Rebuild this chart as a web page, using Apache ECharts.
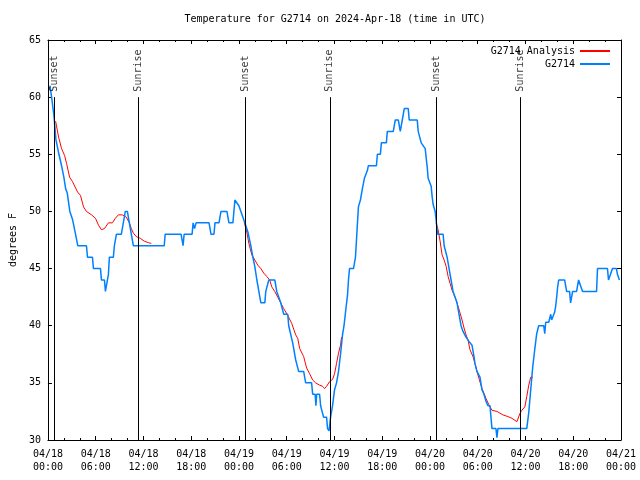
<!DOCTYPE html>
<html><head><meta charset="utf-8">
<script src="https://cdn.jsdelivr.net/npm/echarts@6/dist/echarts.min.js"></script>
<style>html,body{margin:0;padding:0;background:#fff}#c{width:640px;height:480px}</style>
</head><body><div id="c"></div>
<script>
// hours since 04/18 00:00 UTC
const xTickLabels = ['04/18\n00:00','04/18\n06:00','04/18\n12:00','04/18\n18:00',
  '04/19\n00:00','04/19\n06:00','04/19\n12:00','04/19\n18:00',
  '04/20\n00:00','04/20\n06:00','04/20\n12:00','04/20\n18:00','04/21\n00:00'];
const sunTimes = [0.75, 11.35, 24.78, 35.42, 48.81, 59.33];
const sunLabels = ['Sunset','Sunrise','Sunset','Sunrise','Sunset','Sunrise'];

const obsData = [[0.25,61],[0.46,60],[0.75,58.4],[1.00,56.3],[1.38,55],[1.71,54],[2.00,53],[2.22,52],[2.43,51.6],[2.75,50],[3.09,49.3],[3.47,48],[3.75,47],[4.84,47],[4.97,46],[5.59,46],[5.72,45],[6.60,45],[6.72,44],[7.10,44],[7.22,43],[7.47,43],[7.60,44.5],[7.72,46],[8.22,46],[8.35,47],[8.60,48],[9.22,48],[9.47,49],[9.72,50],[9.98,50],[10.23,49],[10.48,48],[10.73,47],[14.61,47],[14.73,48],[16.73,48],[16.98,47],[17.11,48],[18.11,48],[18.24,49],[18.42,48.5],[18.61,49],[20.24,49],[20.49,48],[20.86,48],[20.99,49],[21.49,49],[21.74,50],[22.49,50],[22.74,49],[23.24,49],[23.49,51],[23.74,51],[23.99,50.5],[24.24,50],[24.74,49],[25.12,48.2],[25.49,47],[25.74,46],[25.99,45.2],[26.25,44],[26.50,43],[26.75,42],[27.25,42],[27.37,43],[27.62,43],[27.75,44],[28.50,44],[28.75,43],[29.00,43],[29.25,42],[29.50,42],[29.63,41],[30.13,41],[30.25,40],[30.50,40],[30.75,38.5],[31.13,37],[31.50,36],[32.13,36],[32.38,35],[33.13,35],[33.26,34],[33.57,34],[33.67,33],[33.76,34],[34.13,34],[34.26,33],[34.51,33],[34.63,32],[35.01,32],[35.13,31],[35.32,30.8],[35.51,32],[35.76,33],[36.01,34.4],[36.26,35],[36.51,36],[36.76,37.5],[37.01,39.2],[37.20,40],[37.39,41.2],[37.64,42.7],[37.76,44],[37.89,45],[38.39,45],[38.64,46],[38.89,49],[39.01,50.4],[39.26,51],[39.51,52],[39.76,52.9],[39.89,53],[40.14,53.6],[40.26,54],[41.27,54],[41.39,55],[41.77,55],[41.89,56],[42.52,56],[42.64,57],[43.39,57],[43.64,58],[44.02,58],[44.27,57],[44.39,57],[44.52,58],[44.77,59],[45.27,59],[45.39,58],[46.40,58],[46.52,57],[46.65,57],[46.90,56],[47.40,55.5],[47.52,54.7],[47.65,53.9],[47.77,52.9],[48.15,52.2],[48.27,51.3],[48.40,50.6],[48.65,50],[48.77,49.25],[48.96,48],[49.15,48],[49.65,48],[49.78,47],[50.03,47],[50.15,46],[50.40,45],[50.65,44],[50.78,44],[50.90,43],[51.15,43],[51.40,42],[51.65,41],[51.78,41],[51.90,40],[52.15,39.5],[52.53,39],[53.03,38.5],[53.28,38.3],[53.53,37.3],[53.65,36.7],[53.90,36],[54.28,35.5],[54.53,34.4],[54.78,34],[55.03,33.4],[55.28,33],[55.54,33],[55.66,32],[55.79,31],[56.29,31],[56.41,30.2],[56.54,31],[60.16,31],[60.41,32.4],[60.66,34.4],[60.91,36.4],[61.16,37.9],[61.41,39.3],[61.66,40],[62.29,40],[62.42,39.3],[62.54,40.3],[62.92,40.3],[63.17,41],[63.29,40.5],[63.54,40.5],[63.67,41.2],[63.79,41.7],[63.92,42.5],[64.04,43.4],[64.17,44],[64.92,44],[65.17,43],[65.54,43],[65.67,42],[65.92,43],[66.42,43],[66.67,44],[66.92,44],[67.17,43],[68.93,43],[69.05,45],[70.30,45],[70.43,44],[70.68,44],[70.93,45],[71.43,45],[71.55,44.5],[71.80,44]];

const anaNight1 = [[0.96,57.9],[1.34,56.5],[1.71,55.5],[2.09,54.9],[2.34,54.2],[2.72,53.0],[3.09,52.6],[3.72,51.7],[4.09,51.4],[4.47,50.4],[4.84,50.0],[5.47,49.7],[5.97,49.4],[6.35,48.8],[6.72,48.4],[7.10,48.5],[7.60,49.0],[8.10,49.0],[8.47,49.4],[8.85,49.7],[9.35,49.7],[9.85,49.5],[10.23,49.0],[10.48,48.5],[10.73,48.1],[11.10,47.8],[11.60,47.65],[12.10,47.4],[12.60,47.27],[12.98,47.2]];
const anaNight2 = [[24.66,49.05],[24.99,48.2],[25.24,47.2],[25.62,46.2],[25.99,45.75],[26.37,45.3],[26.75,45.0],[27.12,44.6],[27.50,44.3],[27.87,44.0],[28.12,43.4],[28.50,43.0],[28.87,42.5],[29.25,42.0],[29.62,41.5],[30.13,40.9],[30.63,40.2],[31.13,39.2],[31.38,38.9],[31.63,38.0],[32.13,37.3],[32.50,36.3],[32.88,35.8],[33.26,35.25],[33.63,35.0],[34.13,34.8],[34.51,34.7],[34.76,34.5],[35.01,34.7],[35.38,35.1],[35.76,35.3],[36.01,35.8],[36.26,36.7],[36.51,37.6],[36.76,38.3],[36.89,39.0]];
const anaNight3 = [[48.77,49.0],[49.02,48.4],[49.27,47.4],[49.52,46.2],[49.78,45.75],[50.03,45.2],[50.28,44.3],[50.53,43.7],[50.78,43.1],[51.03,42.7],[51.28,42.25],[51.53,41.7],[51.78,41.1],[52.03,40.5],[52.28,39.8],[52.53,39.2],[52.78,38.75],[53.03,37.9],[53.40,37.3],[53.65,36.7],[53.90,36.0],[54.15,35.4],[54.53,34.5],[54.78,34.1],[55.03,33.65],[55.41,33.07],[55.79,32.6],[56.41,32.5],[57.16,32.2],[57.79,32.05],[58.29,31.9],[58.92,31.6],[59.29,32.3],[59.54,32.6],[59.92,32.9],[60.16,33.8],[60.41,34.8],[60.66,35.5],[60.91,35.5]];

const FONT = 'DejaVu Sans Mono';
const RED = '#ff0000', BLUE = '#0080ff';
const chart = echarts.init(document.getElementById('c'));

function xAx(pos, labels) {
  return {
    type: 'value', min: 0, max: 72, interval: 6, position: pos,
    axisLine: {show: true, onZero: false, lineStyle: {color: '#000', width: 1}},
    axisTick: {show: true, inside: true, length: 4, lineStyle: {color: '#000'}},
    minorTick: {show: true, splitNumber: 3, length: 2, lineStyle: {color: '#000'}},
    splitLine: {show: false},
    axisLabel: labels ? {show: true, formatter: v => xTickLabels[Math.round(v / 6)],
      fontFamily: FONT, fontSize: 10, color: '#000', margin: 8, lineHeight: 12.7} : {show: false}
  };
}
function yAx(pos, labels) {
  const a = {
    type: 'value', min: 30, max: 65, interval: 5, position: pos,
    axisLine: {show: true, onZero: false, lineStyle: {color: '#000', width: 1}},
    axisTick: {show: true, inside: true, length: 4, lineStyle: {color: '#000'}},
    splitLine: {show: false},
    axisLabel: labels ? {show: true, fontFamily: FONT, fontSize: 10, color: '#000', margin: 7} : {show: false}
  };
  if (labels) {
    a.name = 'degrees F'; a.nameLocation = 'middle'; a.nameGap = 29;
    a.nameTextStyle = {fontFamily: FONT, fontSize: 10, color: '#000'};
  }
  return a;
}
function anaSeries(d) {
  return {type: 'line', name: 'G2714 Analysis', data: d, showSymbol: false, symbol: 'none',
    color: RED, lineStyle: {color: RED, width: 1}, z: 2};
}

chart.setOption({
  animation: false,
  title: {text: 'Temperature for G2714 on 2024-Apr-18 (time in UTC)', left: 335, top: 14, padding: 0,
    textAlign: 'center', textStyle: {fontFamily: FONT, fontSize: 10, fontWeight: 'normal', color: '#000'}},
  grid: {left: 46, right: 19, top: 40, bottom: 40, containLabel: false},
  legend: {data: ['G2714 Analysis', 'G2714'], orient: 'vertical', right: 30, top: 46, align: 'right',
    icon: 'rect', itemWidth: 30, itemHeight: 2, itemGap: 3, padding: 0,
    textStyle: {fontFamily: FONT, fontSize: 10, color: '#000'}},
  xAxis: [xAx('bottom', true), xAx('top', false)],
  yAxis: [yAx('left', true), yAx('right', false)],
  series: [
    anaSeries(anaNight1), anaSeries(anaNight2), anaSeries(anaNight3),
    {type: 'line', name: 'G2714', data: obsData, showSymbol: false, symbol: 'none',
      color: BLUE, lineStyle: {color: BLUE, width: 1.5}, z: 3},
    {type: 'scatter', name: 'sun', data: sunTimes.map(t => [t, 60]), symbolSize: 1,
      itemStyle: {color: 'rgba(0,0,0,0)'}, silent: true, z: 4,
      label: {show: true, formatter: p => sunLabels[p.dataIndex], position: 'top', distance: 5,
        rotate: 90, align: 'left', verticalAlign: 'middle', fontFamily: FONT, fontSize: 10, color: '#000'},
      markLine: {silent: true, symbol: ['none', 'none'], label: {show: false},
        lineStyle: {color: '#000', width: 1, type: 'solid'},
        data: sunTimes.map(t => [{coord: [t, 60]}, {coord: [t, 30]}])}}
  ]
});
</script></body></html>
